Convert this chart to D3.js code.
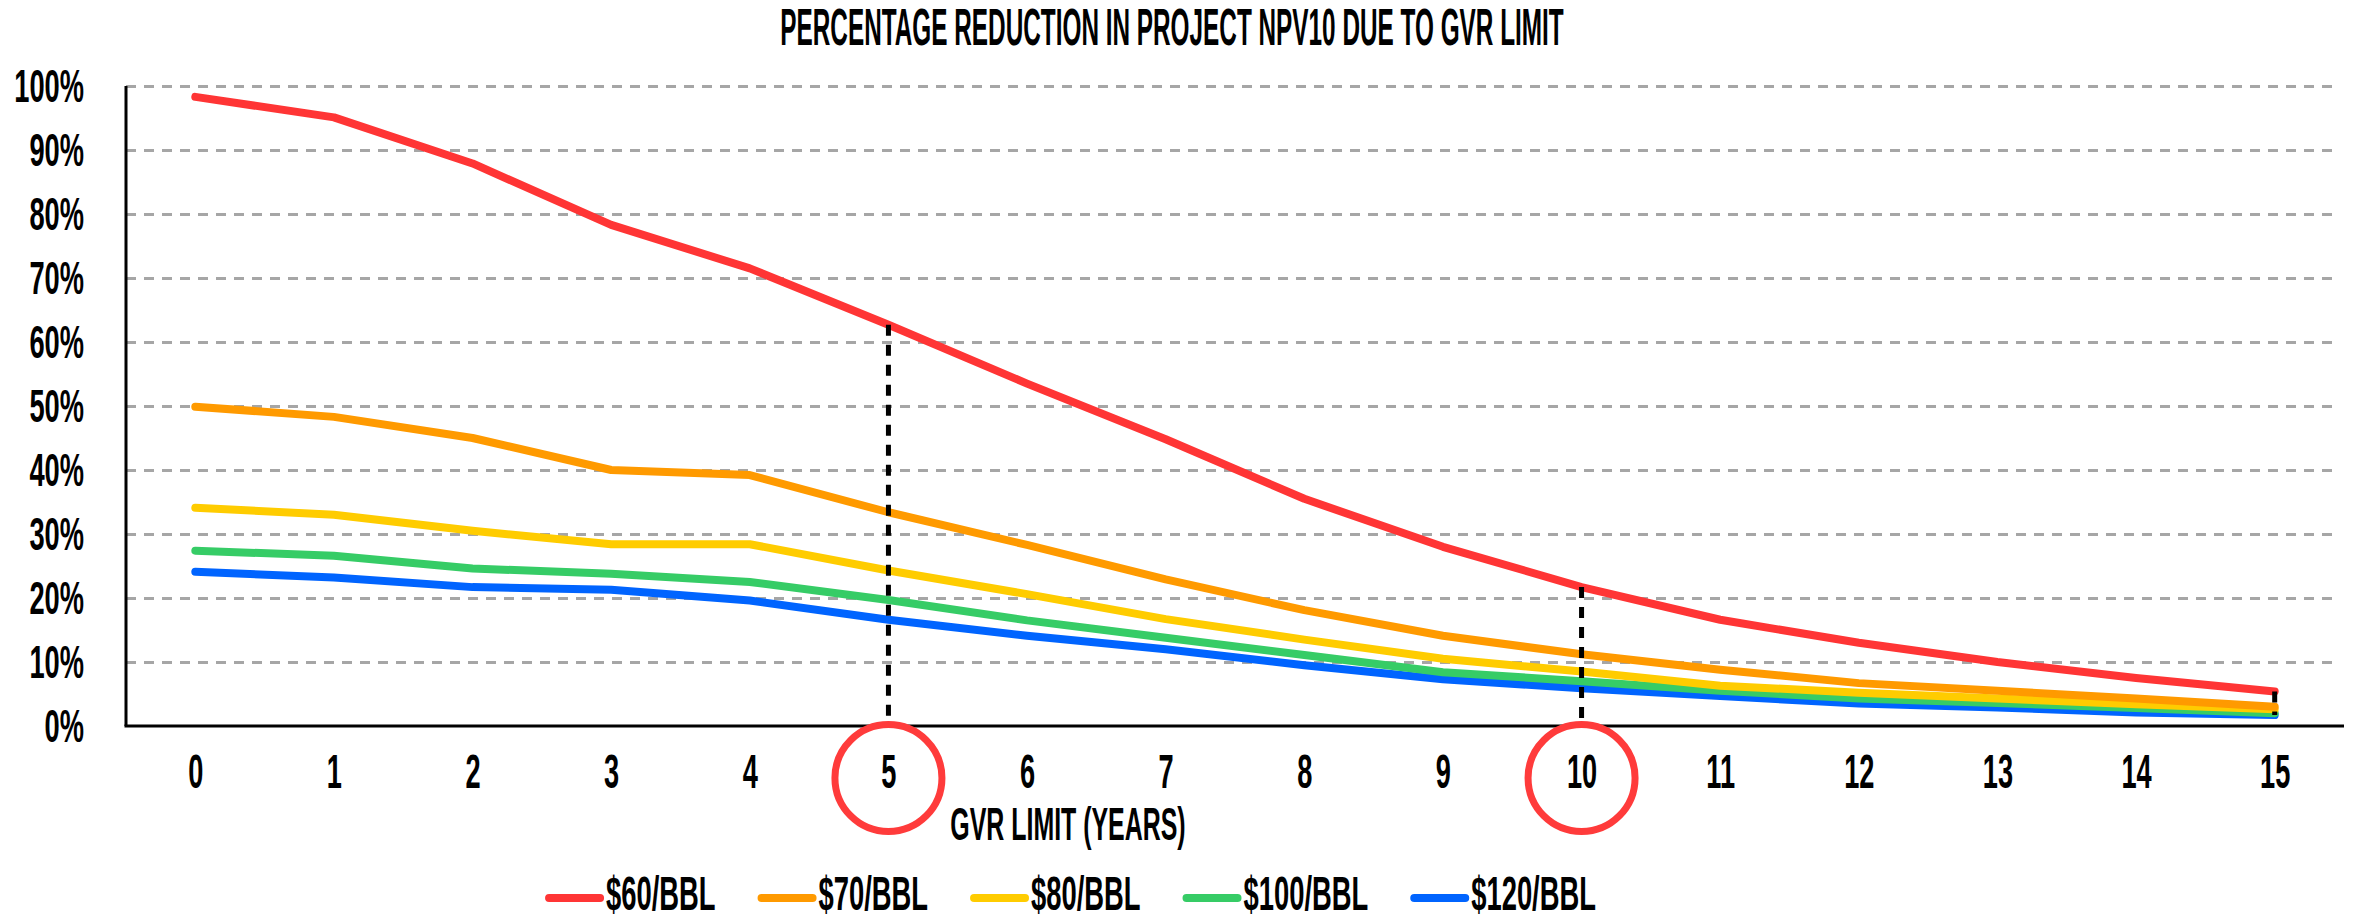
<!DOCTYPE html>
<html>
<head>
<meta charset="utf-8">
<script src="https://cdn.jsdelivr.net/npm/d3@7"></script>
<style>
  body { margin: 0; background: #fff; }
  svg text { font-family: "Liberation Sans Narrow", "Arial Narrow", sans-serif; font-weight: bold; fill: #000; }
</style>
</head>
<body>
<svg></svg>
<script>
var width = 2361,
  height = 914;

// chart values (fraction of NPV10 lost)
var years = [0, 1, 2, 3, 4, 5, 6, 7, 8, 9, 10, 11, 12, 13, 14, 15];
var yTicks = [0, 0.1, 0.2, 0.3, 0.4, 0.5, 0.6, 0.7, 0.8, 0.9, 1];
var seriesNames = ["$60/BBL", "$70/BBL", "$80/BBL", "$100/BBL", "$120/BBL"];
var seriesColors = ["#ff3535", "#ff9a00", "#ffcc00", "#36cc66", "#0064ff"];
var bbl60 = [0.983, 0.951, 0.879, 0.783, 0.715, 0.627, 0.535, 0.448, 0.355, 0.28, 0.217, 0.166, 0.13, 0.10, 0.075, 0.054];
var bbl70 = [0.499, 0.483, 0.45, 0.40, 0.392, 0.334, 0.283, 0.229, 0.181, 0.141, 0.112, 0.088, 0.067, 0.055, 0.043, 0.030];
var bbl80 = [0.341, 0.33, 0.305, 0.284, 0.284, 0.243, 0.206, 0.167, 0.135, 0.105, 0.085, 0.063, 0.052, 0.043, 0.034, 0.026];
var bbl100 = [0.274, 0.266, 0.246, 0.238, 0.225, 0.197, 0.165, 0.138, 0.111, 0.084, 0.07, 0.055, 0.043, 0.036, 0.028, 0.02];
var bbl120 = [0.241, 0.232, 0.217, 0.213, 0.196, 0.166, 0.141, 0.12, 0.095, 0.073, 0.059, 0.047, 0.035, 0.029, 0.021, 0.017];
var highlightYears = [5, 10];

var allSeries = [bbl60, bbl70, bbl80, bbl100, bbl120];

var svg = d3.select("svg")
  .attr("width", width)
  .attr("height", height);

// plot box (note: "top" is taken by window.top, so use plot* names)
var plotLeft = 126, plotRight = 2344, plotTop = 86, plotBottom = 726;

var x = d3.scalePoint()
  .domain(years)
  .range([plotLeft, plotRight])
  .padding(0.5);

var y = d3.scaleLinear()
  .domain([0, 1])
  .range([plotBottom, plotTop]);

// squeeze text so the narrow font looks like the tall condensed one in the picture
function squeeze(sel, k) {
  sel.each(function () {
    var w = this.getComputedTextLength();
    d3.select(this).attr("textLength", w * k).attr("lengthAdjust", "spacingAndGlyphs");
  });
}

// title
svg.append("text")
  .attr("x", 1172)
  .attr("y", 45)
  .attr("text-anchor", "middle")
  .style("font-size", "52px")
  .text("PERCENTAGE REDUCTION IN PROJECT NPV10 DUE TO GVR LIMIT")
  .call(squeeze, 0.468);

// y axis + gridlines
var yAxis = svg.append("g")
  .attr("transform", "translate(" + plotLeft + ",0)")
  .call(d3.axisLeft(y)
    .tickValues(yTicks)
    .tickFormat(d3.format(".0%"))
    .tickSizeInner(-(2340 - plotLeft))
    .tickSizeOuter(0)
    .tickPadding(42));
yAxis.select(".domain").remove();
yAxis.selectAll(".tick line")
  .attr("stroke", "#a6a6a6")
  .attr("stroke-width", 3)
  .attr("stroke-dasharray", "10,8")
  .filter(function (d) { return d == 0; }).remove();
yAxis.selectAll(".tick text")
  .attr("dy", "0.34em")
  .style("font-size", "47px")
  .call(squeeze, 0.58);

// x axis
var xAxis = svg.append("g")
  .attr("transform", "translate(0," + plotBottom + ")")
  .call(d3.axisBottom(x).tickSize(0));
xAxis.select(".domain").remove();
xAxis.selectAll(".tick text")
  .attr("y", 62)
  .attr("dy", 0)
  .style("font-size", "49px")
  .call(squeeze, 0.555);

// axis lines
svg.append("line")
  .attr("x1", plotLeft).attr("x2", plotLeft)
  .attr("y1", plotTop).attr("y2", plotBottom)
  .attr("stroke", "#000").attr("stroke-width", 3);
svg.append("line")
  .attr("x1", plotLeft - 1.5).attr("x2", plotRight)
  .attr("y1", plotBottom).attr("y2", plotBottom)
  .attr("stroke", "#000").attr("stroke-width", 3);

// x axis title
svg.append("text")
  .attr("x", 1068)
  .attr("y", 840)
  .attr("text-anchor", "middle")
  .style("font-size", "47px")
  .text("GVR LIMIT (YEARS)")
  .call(squeeze, 0.53);

// series lines, drawn last-first so $60 ends on top
var line = d3.line()
  .x(function (d, i) { return x(years[i]); })
  .y(function (d) { return y(d); });

svg.append("g")
  .selectAll("path")
  .data(allSeries.map(function (s, i) { return { values: s, color: seriesColors[i] }; }).reverse())
  .enter().append("path")
  .attr("d", function (d) { return line(d.values); })
  .attr("fill", "none")
  .attr("stroke", function (d) { return d.color; })
  .attr("stroke-width", 8)
  .attr("stroke-linejoin", "round")
  .attr("stroke-linecap", "round");

// dashed drop lines at the highlighted years and the last year
var lastYear = years[years.length - 1];
var drops = highlightYears.map(function (yr) {
  return { yr: yr, from: bbl60[years.indexOf(yr)], to: 0 };
});
drops.push({ yr: lastYear, from: bbl60[years.indexOf(lastYear)], to: bbl120[years.indexOf(lastYear)] });

svg.append("g")
  .selectAll("line")
  .data(drops)
  .enter().append("line")
  .attr("x1", function (d) { return x(d.yr); })
  .attr("x2", function (d) { return x(d.yr); })
  .attr("y1", function (d) { return y(d.from); })
  .attr("y2", function (d) { return y(d.to); })
  .attr("stroke", "#000")
  .attr("stroke-width", 5)
  .attr("stroke-dasharray", "11,9");

// red circles round the highlighted tick labels
svg.append("g")
  .selectAll("circle")
  .data(highlightYears)
  .enter().append("circle")
  .attr("cx", function (d) { return x(d); })
  .attr("cy", 778)
  .attr("r", 53.5)
  .attr("fill", "none")
  .attr("stroke", "#ff3b3b")
  .attr("stroke-width", 7);

// legend
var legend = svg.append("g");
var lx = 0;
seriesNames.forEach(function (name, i) {
  var item = legend.append("g").attr("transform", "translate(" + lx + ",0)");
  item.append("line")
    .attr("x1", 3).attr("x2", 54)
    .attr("y1", 898).attr("y2", 898)
    .attr("stroke", seriesColors[i])
    .attr("stroke-width", 8)
    .attr("stroke-linecap", "round");
  var t = item.append("text")
    .attr("x", 60)
    .attr("y", 910)
    .style("font-size", "48px")
    .text(name)
    .call(squeeze, 0.57);
  lx += 60 + (+t.attr("textLength")) + 43;
});
var legendWidth = lx - 43;
legend.attr("transform", "translate(" + (1071 - legendWidth / 2) + ",0)");
</script>
</body>
</html>
